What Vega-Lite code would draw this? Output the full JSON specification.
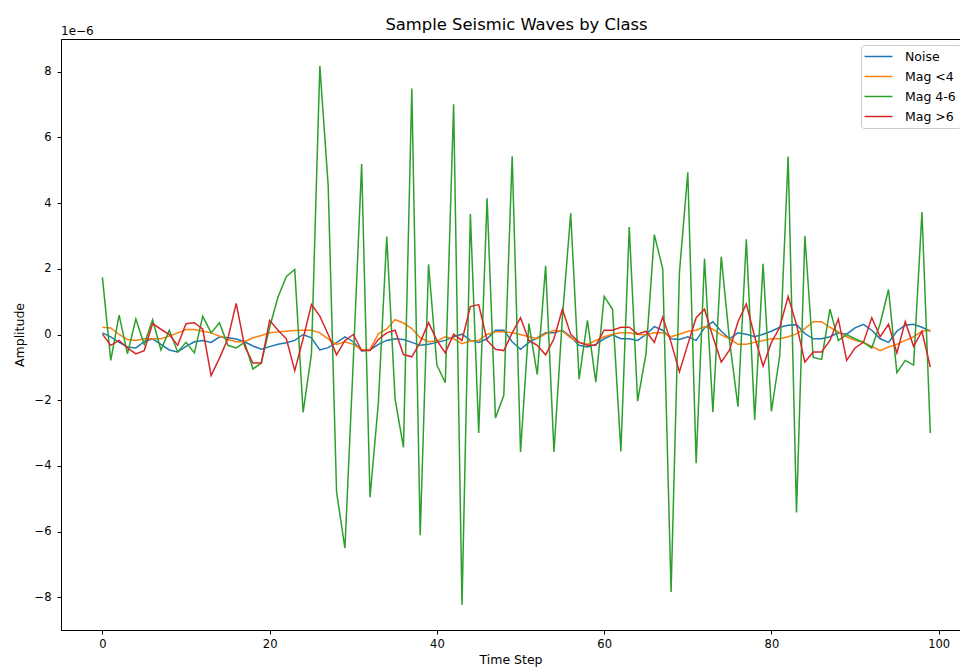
{
  "$schema": "https://vega.github.io/schema/vega-lite/v6.json",
  "width": 899,
  "height": 591,
  "autosize": {"type": "none"},
  "padding": {"left": 61, "top": 39, "right": 0, "bottom": 40},
  "background": "white",
  "config": {
    "view": {"stroke": "black", "strokeWidth": 1},
    "font": "DejaVu Sans",
    "axis": {
      "grid": false,
      "domainColor": "black",
      "tickColor": "black",
      "labelColor": "black",
      "titleColor": "black",
      "tickSize": 4,
      "labelFontSize": 11.5,
      "titleFontSize": 12.5,
      "titleFontWeight": "normal",
      "labelFont": "DejaVu Sans",
      "titleFont": "DejaVu Sans"
    }
  },
  "title": {
    "text": "Sample Seismic Waves by Class",
    "fontSize": 16.4,
    "fontWeight": "normal",
    "font": "DejaVu Sans",
    "color": "black",
    "offset": -8,
    "anchor": "middle",
    "dx": 6
  },
  "layer": [
    {
      "data": {
        "values": [
          {"t":0,"Noise":0.05,"Mag <4":0.22,"Mag 4-6":1.74,"Mag >6":0.01},
          {"t":1,"Noise":-0.07,"Mag <4":0.2,"Mag 4-6":-0.79,"Mag >6":-0.33},
          {"t":2,"Noise":-0.24,"Mag <4":0.0,"Mag 4-6":0.59,"Mag >6":-0.18},
          {"t":3,"Noise":-0.38,"Mag <4":-0.15,"Mag 4-6":-0.59,"Mag >6":-0.41},
          {"t":4,"Noise":-0.41,"Mag <4":-0.18,"Mag 4-6":0.47,"Mag >6":-0.59},
          {"t":5,"Noise":-0.22,"Mag <4":-0.13,"Mag 4-6":-0.3,"Mag >6":-0.49},
          {"t":6,"Noise":-0.13,"Mag <4":-0.13,"Mag 4-6":0.45,"Mag >6":0.33},
          {"t":7,"Noise":-0.3,"Mag <4":-0.13,"Mag 4-6":-0.47,"Mag >6":0.16},
          {"t":8,"Noise":-0.47,"Mag <4":-0.05,"Mag 4-6":0.13,"Mag >6":0.0},
          {"t":9,"Noise":-0.53,"Mag <4":0.05,"Mag 4-6":-0.53,"Mag >6":-0.33},
          {"t":10,"Noise":-0.36,"Mag <4":0.15,"Mag 4-6":-0.24,"Mag >6":0.33},
          {"t":11,"Noise":-0.22,"Mag <4":0.15,"Mag 4-6":-0.56,"Mag >6":0.36},
          {"t":12,"Noise":-0.18,"Mag <4":0.1,"Mag 4-6":0.56,"Mag >6":0.16},
          {"t":13,"Noise":-0.24,"Mag <4":0.05,"Mag 4-6":0.05,"Mag >6":-1.25},
          {"t":14,"Noise":-0.07,"Mag <4":-0.05,"Mag 4-6":0.36,"Mag >6":-0.72},
          {"t":15,"Noise":-0.1,"Mag <4":-0.15,"Mag 4-6":-0.33,"Mag >6":-0.13},
          {"t":16,"Noise":-0.14,"Mag <4":-0.22,"Mag 4-6":-0.41,"Mag >6":0.95},
          {"t":17,"Noise":-0.22,"Mag <4":-0.22,"Mag 4-6":-0.24,"Mag >6":-0.35},
          {"t":18,"Noise":-0.35,"Mag <4":-0.1,"Mag 4-6":-1.05,"Mag >6":-0.87},
          {"t":19,"Noise":-0.45,"Mag <4":-0.03,"Mag 4-6":-0.87,"Mag >6":-0.87},
          {"t":20,"Noise":-0.37,"Mag <4":0.05,"Mag 4-6":0.22,"Mag >6":0.43},
          {"t":21,"Noise":-0.3,"Mag <4":0.08,"Mag 4-6":1.14,"Mag >6":0.13},
          {"t":22,"Noise":-0.25,"Mag <4":0.1,"Mag 4-6":1.77,"Mag >6":-0.13},
          {"t":23,"Noise":-0.18,"Mag <4":0.12,"Mag 4-6":1.98,"Mag >6":-1.1},
          {"t":24,"Noise":0.0,"Mag <4":0.13,"Mag 4-6":-2.37,"Mag >6":-0.13},
          {"t":25,"Noise":-0.1,"Mag <4":0.13,"Mag 4-6":-0.59,"Mag >6":0.91},
          {"t":26,"Noise":-0.47,"Mag <4":0.05,"Mag 4-6":8.18,"Mag >6":0.56},
          {"t":27,"Noise":-0.4,"Mag <4":-0.13,"Mag 4-6":4.53,"Mag >6":0.0},
          {"t":28,"Noise":-0.25,"Mag <4":-0.3,"Mag 4-6":-4.79,"Mag >6":-0.62},
          {"t":29,"Noise":-0.07,"Mag <4":-0.22,"Mag 4-6":-6.51,"Mag >6":-0.18},
          {"t":30,"Noise":-0.22,"Mag <4":-0.3,"Mag 4-6":-0.8,"Mag >6":0.0},
          {"t":31,"Noise":-0.5,"Mag <4":-0.47,"Mag 4-6":5.19,"Mag >6":-0.49},
          {"t":32,"Noise":-0.47,"Mag <4":-0.45,"Mag 4-6":-4.96,"Mag >6":-0.49},
          {"t":33,"Noise":-0.3,"Mag <4":0.02,"Mag 4-6":-2.08,"Mag >6":-0.15},
          {"t":34,"Noise":-0.18,"Mag <4":0.17,"Mag 4-6":2.98,"Mag >6":0.05},
          {"t":35,"Noise":-0.13,"Mag <4":0.45,"Mag 4-6":-1.97,"Mag >6":0.13},
          {"t":36,"Noise":-0.15,"Mag <4":0.35,"Mag 4-6":-3.44,"Mag >6":-0.61},
          {"t":37,"Noise":-0.24,"Mag <4":0.18,"Mag 4-6":7.49,"Mag >6":-0.68},
          {"t":38,"Noise":-0.33,"Mag <4":-0.1,"Mag 4-6":-6.11,"Mag >6":-0.24},
          {"t":39,"Noise":-0.3,"Mag <4":-0.22,"Mag 4-6":2.14,"Mag >6":0.36},
          {"t":40,"Noise":-0.24,"Mag <4":-0.2,"Mag 4-6":-0.93,"Mag >6":-0.18},
          {"t":41,"Noise":-0.18,"Mag <4":-0.07,"Mag 4-6":-1.47,"Mag >6":-0.56},
          {"t":42,"Noise":-0.07,"Mag <4":-0.13,"Mag 4-6":7.01,"Mag >6":0.01},
          {"t":43,"Noise":0.01,"Mag <4":-0.28,"Mag 4-6":-8.24,"Mag >6":-0.18},
          {"t":44,"Noise":-0.18,"Mag <4":-0.2,"Mag 4-6":3.67,"Mag >6":0.85},
          {"t":45,"Noise":-0.24,"Mag <4":-0.18,"Mag 4-6":-3.0,"Mag >6":0.91},
          {"t":46,"Noise":-0.13,"Mag <4":0.0,"Mag 4-6":4.15,"Mag >6":-0.18},
          {"t":47,"Noise":0.13,"Mag <4":0.08,"Mag 4-6":-2.54,"Mag >6":-0.45},
          {"t":48,"Noise":0.13,"Mag <4":0.08,"Mag 4-6":-1.85,"Mag >6":-0.49},
          {"t":49,"Noise":-0.22,"Mag <4":0.05,"Mag 4-6":5.43,"Mag >6":0.05},
          {"t":50,"Noise":-0.45,"Mag <4":0.0,"Mag 4-6":-3.58,"Mag >6":0.51},
          {"t":51,"Noise":-0.24,"Mag <4":-0.07,"Mag 4-6":0.33,"Mag >6":-0.18},
          {"t":52,"Noise":-0.1,"Mag <4":-0.13,"Mag 4-6":-1.22,"Mag >6":-0.33},
          {"t":53,"Noise":0.05,"Mag <4":0.02,"Mag 4-6":2.09,"Mag >6":-0.62},
          {"t":54,"Noise":0.05,"Mag <4":0.13,"Mag 4-6":-3.58,"Mag >6":-0.13},
          {"t":55,"Noise":0.13,"Mag <4":0.1,"Mag 4-6":0.5,"Mag >6":0.77},
          {"t":56,"Noise":-0.07,"Mag <4":-0.1,"Mag 4-6":3.69,"Mag >6":0.01},
          {"t":57,"Noise":-0.33,"Mag <4":-0.24,"Mag 4-6":-1.36,"Mag >6":-0.24},
          {"t":58,"Noise":-0.38,"Mag <4":-0.3,"Mag 4-6":0.43,"Mag >6":-0.33},
          {"t":59,"Noise":-0.3,"Mag <4":-0.18,"Mag 4-6":-1.45,"Mag >6":-0.33},
          {"t":60,"Noise":-0.13,"Mag <4":-0.07,"Mag 4-6":1.16,"Mag >6":0.13},
          {"t":61,"Noise":-0.01,"Mag <4":0.01,"Mag 4-6":0.77,"Mag >6":0.13},
          {"t":62,"Noise":-0.13,"Mag <4":0.05,"Mag 4-6":-3.56,"Mag >6":0.22},
          {"t":63,"Noise":-0.13,"Mag <4":0.05,"Mag 4-6":3.27,"Mag >6":0.22},
          {"t":64,"Noise":-0.18,"Mag <4":0.0,"Mag 4-6":-2.03,"Mag >6":0.01},
          {"t":65,"Noise":0.0,"Mag <4":-0.01,"Mag 4-6":-0.59,"Mag >6":0.1},
          {"t":66,"Noise":0.24,"Mag <4":0.05,"Mag 4-6":3.04,"Mag >6":-0.24},
          {"t":67,"Noise":0.13,"Mag <4":0.05,"Mag 4-6":2.0,"Mag >6":0.53},
          {"t":68,"Noise":-0.13,"Mag <4":-0.07,"Mag 4-6":-7.84,"Mag >6":-0.24},
          {"t":69,"Noise":-0.15,"Mag <4":0.01,"Mag 4-6":1.89,"Mag >6":-1.14},
          {"t":70,"Noise":-0.07,"Mag <4":0.1,"Mag 4-6":4.94,"Mag >6":-0.3},
          {"t":71,"Noise":-0.18,"Mag <4":0.13,"Mag 4-6":-3.92,"Mag >6":0.51},
          {"t":72,"Noise":0.2,"Mag <4":0.24,"Mag 4-6":2.31,"Mag >6":0.77},
          {"t":73,"Noise":0.39,"Mag <4":0.16,"Mag 4-6":-2.37,"Mag >6":-0.07},
          {"t":74,"Noise":0.1,"Mag <4":-0.01,"Mag 4-6":2.37,"Mag >6":-0.84},
          {"t":75,"Noise":-0.13,"Mag <4":-0.13,"Mag 4-6":-0.2,"Mag >6":-0.47},
          {"t":76,"Noise":0.05,"Mag <4":-0.3,"Mag 4-6":-2.2,"Mag >6":0.39},
          {"t":77,"Noise":0.01,"Mag <4":-0.3,"Mag 4-6":2.9,"Mag >6":0.93},
          {"t":78,"Noise":-0.07,"Mag <4":-0.24,"Mag 4-6":-2.6,"Mag >6":-0.07},
          {"t":79,"Noise":0.01,"Mag <4":-0.18,"Mag 4-6":2.15,"Mag >6":-0.96},
          {"t":80,"Noise":0.1,"Mag <4":-0.13,"Mag 4-6":-2.34,"Mag >6":-0.24},
          {"t":81,"Noise":0.22,"Mag <4":-0.13,"Mag 4-6":-0.64,"Mag >6":0.22},
          {"t":82,"Noise":0.28,"Mag <4":-0.07,"Mag 4-6":5.42,"Mag >6":1.16},
          {"t":83,"Noise":0.3,"Mag <4":0.02,"Mag 4-6":-5.42,"Mag >6":0.3},
          {"t":84,"Noise":0.03,"Mag <4":0.18,"Mag 4-6":3.0,"Mag >6":-0.84},
          {"t":85,"Noise":-0.13,"Mag <4":0.39,"Mag 4-6":-0.7,"Mag >6":-0.53},
          {"t":86,"Noise":-0.13,"Mag <4":0.39,"Mag 4-6":-0.76,"Mag >6":-0.53},
          {"t":87,"Noise":-0.07,"Mag <4":0.22,"Mag 4-6":0.77,"Mag >6":-0.18},
          {"t":88,"Noise":0.05,"Mag <4":0.08,"Mag 4-6":-0.18,"Mag >6":0.47},
          {"t":89,"Noise":0.01,"Mag <4":-0.07,"Mag 4-6":0.0,"Mag >6":-0.79},
          {"t":90,"Noise":0.2,"Mag <4":-0.18,"Mag 4-6":-0.13,"Mag >6":-0.41},
          {"t":91,"Noise":0.31,"Mag <4":-0.24,"Mag 4-6":-0.24,"Mag >6":-0.24},
          {"t":92,"Noise":0.13,"Mag <4":-0.36,"Mag 4-6":-0.41,"Mag >6":0.51},
          {"t":93,"Noise":-0.13,"Mag <4":-0.49,"Mag 4-6":0.33,"Mag >6":-0.07},
          {"t":94,"Noise":-0.24,"Mag <4":-0.38,"Mag 4-6":1.37,"Mag >6":0.31},
          {"t":95,"Noise":0.1,"Mag <4":-0.3,"Mag 4-6":-1.16,"Mag >6":-0.56},
          {"t":96,"Noise":0.28,"Mag <4":-0.18,"Mag 4-6":-0.79,"Mag >6":0.39},
          {"t":97,"Noise":0.31,"Mag <4":-0.07,"Mag 4-6":-0.93,"Mag >6":-0.36},
          {"t":98,"Noise":0.22,"Mag <4":0.1,"Mag 4-6":3.73,"Mag >6":0.1},
          {"t":99,"Noise":0.1,"Mag <4":0.13,"Mag 4-6":-3.0,"Mag >6":-0.99}
        ]
      },
      "transform": [{"fold": ["Noise", "Mag <4", "Mag 4-6", "Mag >6"], "as": ["cls", "amp"]}],
      "mark": {"type": "line", "strokeWidth": 1.5, "clip": true},
      "encoding": {
        "x": {
          "field": "t",
          "type": "quantitative",
          "scale": {"domain": [-4.95, 102.55], "nice": false, "zero": false},
          "axis": {"values": [0, 20, 40, 60, 80, 100], "title": "Time Step", "labelPadding": 4, "titlePadding": 4}
        },
        "y": {
          "field": "amp",
          "type": "quantitative",
          "scale": {"domain": [-9, 9], "nice": false},
          "axis": {"values": [-8, -6, -4, -2, 0, 2, 4, 6, 8], "title": "Amplitude", "labelPadding": 6, "titlePadding": 8}
        },
        "color": {
          "field": "cls",
          "type": "nominal",
          "scale": {
            "domain": ["Noise", "Mag <4", "Mag 4-6", "Mag >6"],
            "range": ["#1f77b4", "#ff7f0e", "#2ca02c", "#d62728"]
          },
          "legend": {
            "title": null,
            "orient": "none",
            "legendX": 800,
            "legendY": 6,
            "symbolType": "M-2.5,0H2.5",
            "symbolSize": 125,
            "symbolStrokeWidth": 1.5,
            "symbolOffset": 6,
            "labelFontSize": 12.5,
            "labelFont": "DejaVu Sans",
            "labelColor": "black",
            "fillColor": "white",
            "strokeColor": "#cccccc",
            "padding": 5,
            "cornerRadius": 3,
            "rowPadding": 7,
            "labelOffset": 20
          }
        }
      }
    },
    {
      "data": {"values": [{}]},
      "mark": {"type": "text", "align": "left", "baseline": "alphabetic", "dy": -4, "fontSize": 12, "font": "DejaVu Sans", "color": "black"},
      "encoding": {
        "x": {"datum": -4.95, "type": "quantitative", "title": "Time Step"},
        "y": {"datum": 9, "type": "quantitative", "title": "Amplitude"},
        "text": {"value": "1e−6"}
      }
    }
  ]
}
